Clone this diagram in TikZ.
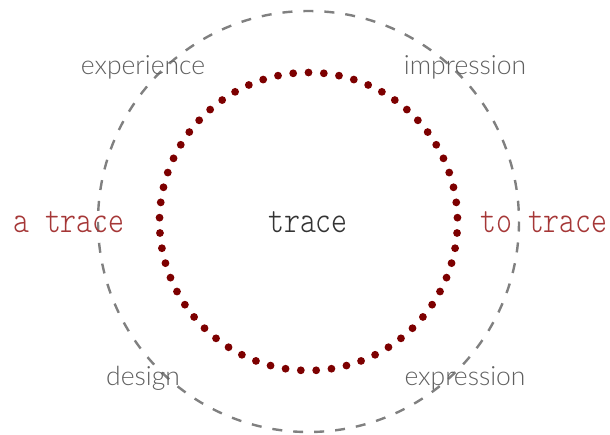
\documentclass[tikz,border=0pt]{standalone}
\usepackage{fontspec}
\setmainfont{Lato Light}
\newfontfamily\typefont[FakeStretch=0.8]{Latin Modern Mono Light}
\usetikzlibrary{calc}
\begin{document}
\begin{tikzpicture}[x=1pt,y=-1pt,
  graylabel/.style={text=labelgray,font=\fontsize{26.5}{26.5}\selectfont,inner sep=0pt},
  redlabel/.style={text=tracered,font=\typefont\fontsize{38}{38}\selectfont,inner sep=0pt},
  centerlabel/.style={text=black!80,font=\typefont\fontsize{38}{38}\selectfont,inner sep=0pt}]
\definecolor{labelgray}{RGB}{95,95,95}
\definecolor{tracered}{RGB}{165,55,55}
\definecolor{dotred}{RGB}{125,0,0}
\definecolor{dashgray}{RGB}{128,128,128}
\useasboundingbox (0,0) rectangle (610,434);
\coordinate (c) at (308.5,221.5);
\draw[dashgray,line width=2.4pt,dash pattern=on 10pt off 11pt] (c) circle[radius=210.5];
\foreach \i in {0,...,60}{
  \fill[dotred] ($(c)+({-90+\i*5.9016}:149)$) circle[radius=3.9];
}
\node[graylabel] (exp) at (143,67) {experience};
\node[graylabel] (imp) at (465,67) {impression};
\node[graylabel] (des) at (143,378) {design};
\node[graylabel] (expr) at (465,378) {expression};
\node[redlabel] (at) at (69,222) {a trace};
\node[redlabel] (tt) at (544,222) {to trace};
\node[centerlabel] (tr) at (308,222) {trace};
\end{tikzpicture}
\end{document}
